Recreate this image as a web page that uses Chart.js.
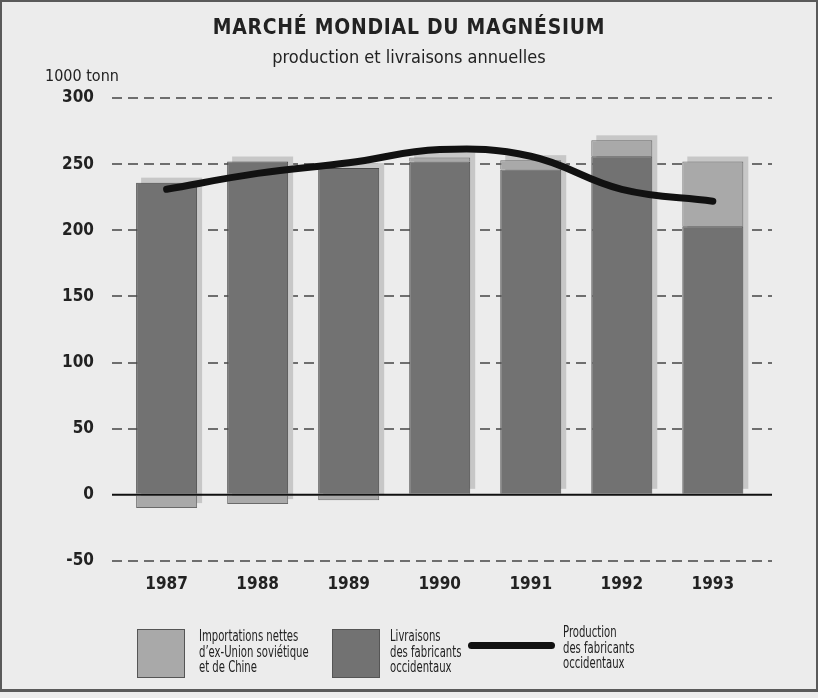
<!DOCTYPE html>
<html lang="fr">
<head>
<meta charset="utf-8">
<script src="https://cdn.jsdelivr.net/npm/chart.js@4"></script>
<style>
  body { margin: 0; background: #ececec; }
  #frame {
    position: absolute; left: 0; top: 0; width: 818px; height: 692px;
    box-sizing: border-box; border: 2px solid #5a5a5a; border-bottom-width: 3px;
  }
  canvas { position: absolute; left: 0; top: 0; }
  .txt { position: absolute; font-family: 'DejaVu Sans Condensed', 'Liberation Sans', sans-serif; color: #222; white-space: nowrap; }
  #title { left: 0; width: 818px; top: 14px; text-align: center; font-weight: bold; font-size: 22px; letter-spacing: 0.8px; transform: scaleX(0.95); }
  #subtitle { left: 0; width: 818px; top: 46px; text-align: center; font-size: 18px; }
  #unit { left: 45px; top: 66px; font-size: 16px; }
  .box { position: absolute; width: 48px; height: 49px; box-sizing: border-box; border: 1px solid #555; }
  .leg { font-size: 16px; line-height: 15.5px; transform: scaleX(0.7); transform-origin: left top; }
  #legline { position: absolute; left: 468px; top: 642px; width: 87px; height: 7px; background: #111; border-radius: 4px; }
</style>
</head>
<body>
<div id="frame"></div>
<canvas id="chart" width="818" height="698"></canvas>
<div class="txt" id="title">MARCHÉ MONDIAL DU MAGNÉSIUM</div>
<div class="txt" id="subtitle">production et livraisons annuelles</div>
<div class="txt" id="unit">1000 tonn</div>

<div class="box" style="left:137px; top:629px; background:#a9a9a9;"></div>
<div class="txt leg" style="left:199px; top:628px;">Importations nettes<br>d’ex-Union soviétique<br>et de Chine</div>
<div class="box" style="left:332px; top:629px; background:#727272;"></div>
<div class="txt leg" style="left:390px; top:628px;">Livraisons<br>des fabricants<br>occidentaux</div>
<div id="legline"></div>
<div class="txt leg" style="left:563px; top:624px;">Production<br>des fabricants<br>occidentaux</div>

<script>
// données (milliers de tonnes)
const years        = [1987, 1988, 1989, 1990, 1991, 1992, 1993];
const livraisons   = [236, 252, 247, 252, 246, 256, 203];
const importations = [-10, -7, -4, 3, 7, 12, 49];
const production   = [231, 243, 251, 261, 256, 231, 222];
const yTicks       = [-50, 0, 50, 100, 150, 200, 250, 300];

const FONT = "'DejaVu Sans Condensed', sans-serif";

const toPoints = values => values.map((v, i) => ({ x: years[i], y: v }));

// ombre portée derrière chaque colonne
const barShadow = {
  id: 'barShadow',
  beforeDatasetsDraw(chart) {
    const metas = chart.getSortedVisibleDatasetMetas().filter(m => m.type === 'bar');
    const ctx = chart.ctx;
    ctx.save();
    ctx.fillStyle = '#c7c7c7';
    years.forEach((_, i) => {
      let top = Infinity, bottom = -Infinity, left = 0, right = 0;
      metas.forEach(m => {
        const el = m.data[i];
        top = Math.min(top, el.y, el.base);
        bottom = Math.max(bottom, el.y, el.base);
        left = el.x - el.width / 2;
        right = el.x + el.width / 2;
      });
      ctx.fillRect(left + 5, top - 5, right - left, bottom - top);
    });
    ctx.restore();
  }
};

// ligne du zéro
const zeroLine = {
  id: 'zeroLine',
  afterDatasetsDraw(chart) {
    const { ctx, chartArea, scales } = chart;
    const y = scales.y.getPixelForValue(0);
    ctx.save();
    ctx.strokeStyle = '#111';
    ctx.lineWidth = 2;
    ctx.beginPath();
    ctx.moveTo(chartArea.left, y);
    ctx.lineTo(chartArea.right, y);
    ctx.stroke();
    ctx.restore();
  }
};

new Chart(document.getElementById('chart'), {
  data: {
    datasets: [
      {
        type: 'line',
        label: 'Production des fabricants occidentaux',
        data: toPoints(production),
        stack: 'line',
        order: 0,
        borderColor: '#111',
        borderWidth: 7,
        borderCapStyle: 'round',
        borderJoinStyle: 'round',
        tension: 0.4,
        pointRadius: 0
      },
      {
        type: 'bar',
        label: 'Livraisons des fabricants occidentaux',
        data: toPoints(livraisons),
        order: 1,
        grouped: false,
        backgroundColor: '#727272',
        borderColor: '#4a4a4a',
        borderWidth: 1,
        barPercentage: 0.67,
        categoryPercentage: 1
      },
      {
        type: 'bar',
        label: 'Importations nettes',
        data: toPoints(importations),
        order: 1,
        grouped: false,
        backgroundColor: '#a9a9a9',
        borderColor: '#6a6a6a',
        borderWidth: 1,
        barPercentage: 0.67,
        categoryPercentage: 1
      }
    ]
  },
  options: {
    responsive: false,
    animation: false,
    layout: { padding: { left: 0, top: 98, right: 46, bottom: 97 } },
    plugins: { legend: { display: false }, tooltip: { enabled: false } },
    scales: {
      x: {
        type: 'linear',
        offset: false,
        min: 1986.4,
        max: 1993.65,
        afterBuildTicks: scale => { scale.ticks = years.map(v => ({ value: v })); },
        afterFit: scale => { scale.height = 40; },
        grid: { display: false, drawTicks: false },
        border: { display: false },
        ticks: {
          padding: 13,
          color: '#222',
          font: { family: FONT, size: 17, weight: 'bold' },
          callback: v => String(v)
        }
      },
      y: {
        stacked: true,
        min: -50,
        max: 300,
        afterBuildTicks: scale => { scale.ticks = yTicks.map(v => ({ value: v })); },
        afterFit: scale => { scale.width = 112; },
        grid: {
          drawTicks: false,
          lineWidth: 2,
          color: c => c.tick && c.tick.value === 0 ? 'rgba(0,0,0,0)' : '#6e6e6e'
        },
        border: { display: false, dash: [10, 6] },
        ticks: {
          padding: 18,
          color: '#222',
          font: { family: FONT, size: 17, weight: 'bold' }
        }
      }
    }
  },
  plugins: [barShadow, zeroLine]
});
</script>
</body>
</html>
